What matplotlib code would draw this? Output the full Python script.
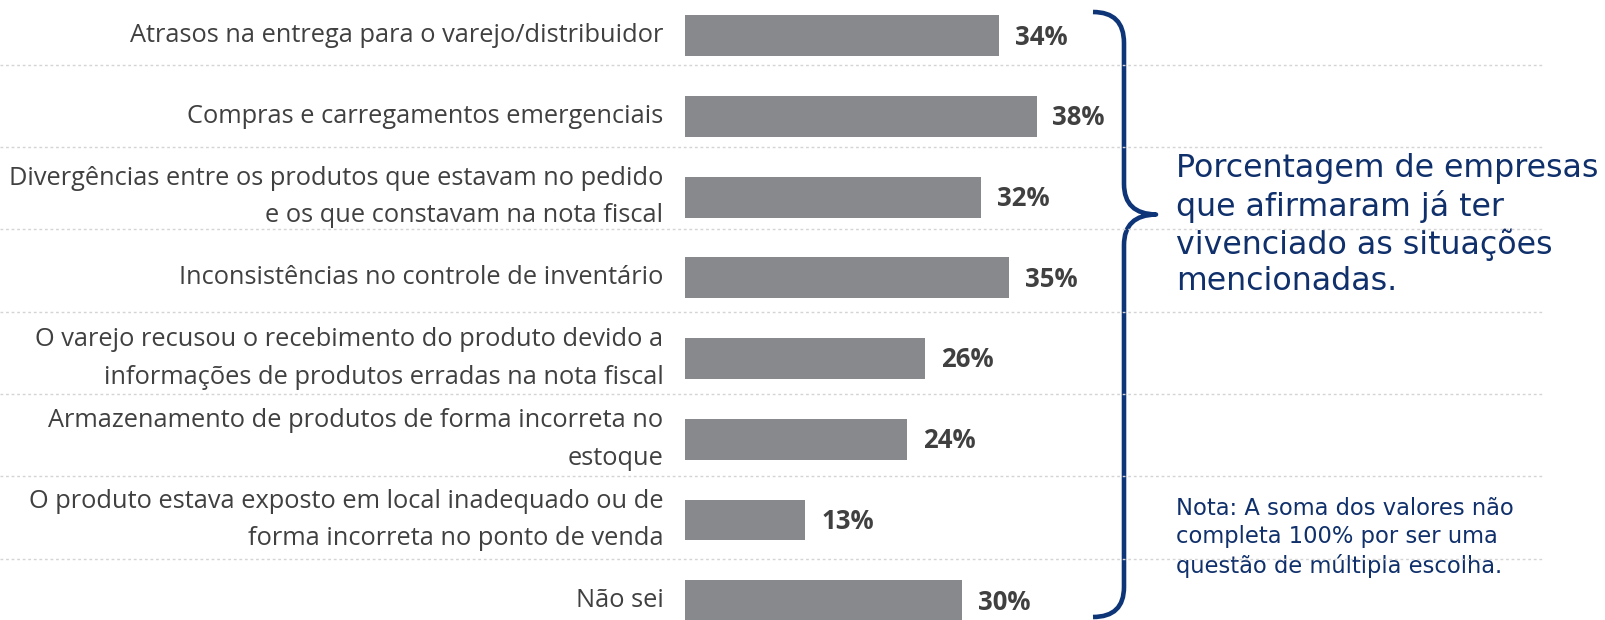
import matplotlib.pyplot as plt
from matplotlib.path import Path
from matplotlib.patches import PathPatch

categories = [
    "Atrasos na entrega para o varejo/distribuidor",
    "Compras e carregamentos emergenciais",
    "Divergências entre os produtos que estavam no pedido\ne os que constavam na nota fiscal",
    "Inconsistências no controle de inventário",
    "O varejo recusou o recebimento do produto devido a\ninformações de produtos erradas na nota fiscal",
    "Armazenamento de produtos de forma incorreta no\nestoque",
    "O produto estava exposto em local inadequado ou de\nforma incorreta no ponto de venda",
    "Não sei",
]
values = [34, 38, 32, 35, 26, 24, 13, 30]

note_main = "Porcentagem de empresas\nque afirmaram já ter\nvivenciado as situações\nmencionadas."
note_small = "Nota: A soma dos valores não\ncompleta 100% por ser uma\nquestão de múltipla escolha."

W, H = 1606, 620
BAR_LEFT = 685      # px where 0% sits
PX_PER_PCT = 9.25
ROW_PX = 80.7
FIRST_ROW_PX = 35.8

BAR_COLOR = "#87898c"
TEXT_COLOR = "#404040"
NAVY = "#0e3577"
NAVY_TEXT = "#10306b"

fig = plt.figure(figsize=(W / 100, H / 100), dpi=100)

# pixel overlay for the brace and side notes
ov = fig.add_axes([0, 0, 1, 1])
ov.set_xlim(0, W)
ov.set_ylim(H, 0)
ov.axis("off")

ax = fig.add_axes([BAR_LEFT / W, 0, (W - BAR_LEFT) / W, 1])
ax.patch.set_alpha(0)

y = list(range(len(values)))
ax.barh(y, values, height=0.508, color=BAR_COLOR, zorder=2)
ax.set_xlim(0, (W - BAR_LEFT) / PX_PER_PCT)
ax.set_ylim((H - FIRST_ROW_PX) / ROW_PX, -FIRST_ROW_PX / ROW_PX)
ax.set_yticks(y, categories, fontsize=18.3, color=TEXT_COLOR, family="Open Sans",
              linespacing=1.66, va="center")
ax.tick_params(axis="y", length=0, pad=15.5)
ax.set_xticks([])
for s in ax.spines.values():
    s.set_visible(False)

for i, v in enumerate(values):
    ax.annotate(f"{v}%", (v, i), xytext=(11.5, -1), textcoords="offset points",
                va="center", ha="left", fontsize=18.5, fontweight="bold",
                color=TEXT_COLOR, family="Open Sans")

# dotted separators, slightly wider spaced than the bars
ax_w = W - BAR_LEFT
for k in range(len(values) - 1):
    g = 0.36 + k * 1.02
    ax.plot([-BAR_LEFT / ax_w, (1543 - BAR_LEFT) / ax_w], [g, g],
            transform=ax.get_yaxis_transform(), clip_on=False,
            color="#d4d4d4", lw=1, ls=(0, (2, 2)), zorder=1)

# curly brace
verts = [
    (1093, 12), (1124, 12), (1124, 43),
    (1124, 184),
    (1124, 214), (1156, 214.5),
    (1124, 215), (1124, 245),
    (1124, 587),
    (1124, 617), (1093, 617),
]
codes = [Path.MOVETO, Path.CURVE3, Path.CURVE3, Path.LINETO,
         Path.CURVE3, Path.CURVE3, Path.CURVE3, Path.CURVE3,
         Path.LINETO, Path.CURVE3, Path.CURVE3]
ov.add_patch(PathPatch(Path(verts, codes), fill=False, edgecolor=NAVY,
                       lw=3.3, capstyle="butt", joinstyle="round"))

ov.text(1176, 153, note_main, va="top", ha="left", fontsize=22.8,
        color=NAVY_TEXT, family="DejaVu Sans", linespacing=1.22)
ov.text(1176, 497, note_small, va="top", ha="left", fontsize=16.3,
        color=NAVY_TEXT, family="DejaVu Sans", linespacing=1.3)

fig.savefig("out.png", dpi=100)
